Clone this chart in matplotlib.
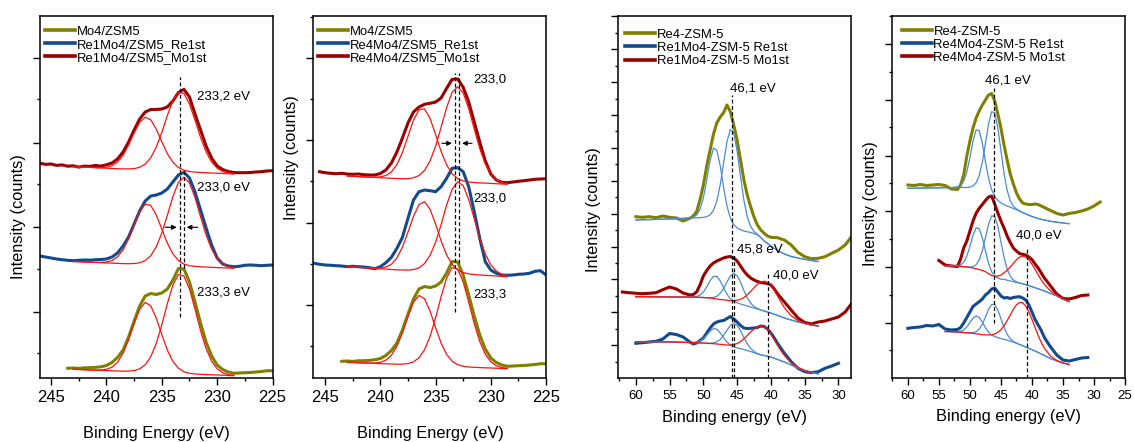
"""
XPS spectra (Mo 3d on the left, Re 4f on the right) of Mo/Re-ZSM-5 samples.
Intensities are arbitrary units read off the original figure, already stacked.
"""
import numpy as np
import matplotlib
matplotlib.use('Agg')
import matplotlib.pyplot as plt
from matplotlib.lines import Line2D

plt.rcParams['font.family'] = ['Liberation Sans', 'DejaVu Sans']

nan = np.nan

# ---------------- Mo 3d panels ----------------
# spectra sampled every 0.5 eV from the given start energy
mo4_start = 243.5
mo4 = [9.7, 10.0, 9.6, 10.2, 10.3, 10.6, 11.2, 12.5, 15.5, 20.5, 28.0, 41.0, 57.0, 72.0,
       82.0, 84.5, 83.5, 85.0, 89.0, 98.0, 109.5, 109.0, 96.0, 76.0, 55.0, 36.0, 22.0,
       13.0, 8.5, 6.0, 4.7, 5.0, 5.3, 5.5, 6.0, 6.5, 7.3, 7.2]

p1_re1st_start = 246.0
p1_re1st = [122.0, 121.0, 120.0, 119.0, 118.3, 117.7, 117.3, 117.7, 118.0, 117.8, 118.3,
            118.5, 119.0, 121.0, 125.0, 132.0, 141.0, 154.0, 167.0, 177.0, 182.0, 183.0,
            185.0, 189.0, 196.0, 203.0, 205.7, 200.0, 186.0, 168.0, 150.0, 133.0, 120.0,
            114.0, 112.0, 111.3, 111.7, 112.7, 113.0, 112.7, 112.3, 112.7, 113.0]

p1_mo1st_start = 246.0
p1_mo1st = [214.7, 213.6, 214.0, 212.6, 213.1, 211.8, 212.2, 210.9, 211.9, 211.6, 212.6,
            211.9, 213.2, 215.0, 219.0, 226.0, 236.0, 248.0, 259.0, 266.0, 268.5, 268.5,
            269.0, 271.0, 277.0, 285.5, 288.7, 281.0, 264.0, 248.0, 232.0, 220.0, 212.0,
            208.5, 206.5, 205.5, 205.3, 205.3, 205.5, 206.0, 206.3, 207.0, 207.3]

p2_re1st_start = 246.0
p2_re1st = [114.7, 113.7, 113.0, 112.7, 112.3, 112.0, 111.3, 111.7, 111.3, 111.0, 110.3,
            109.3, 111.3, 115.3, 120.7, 129.7, 140.7, 159.7, 178.0, 186.3, 188.0, 187.3,
            186.3, 191.3, 199.7, 209.7, 210.3, 206.3, 191.3, 166.3, 139.7, 116.3, 108.0,
            104.7, 103.0, 102.7, 103.0, 103.7, 104.0, 104.7, 106.7, 107.3, 103.0]

p2_mo1st_start = 245.5
p2_mo1st = [206.3, 205.3, 204.7, 204.3, 204.7, 204.0, 203.7, 204.0, 203.3, 203.0, 203.0,
            204.5, 208.0, 215.0, 226.0, 240.0, 255.0, 266.0, 271.0, 273.7, 274.7, 276.0,
            280.0, 289.7, 298.7, 299.0, 290.7, 276.0, 256.0, 236.0, 217.0, 204.0, 198.0,
            195.7, 195.3, 196.0, 196.7, 197.3, 198.0, 198.7, 199.0, 199.3]

# fitted Mo 3d5/2 and 3d3/2 components, 243 -> 228.5 eV every 0.5 eV
fit_be_mo = 243.0 - 0.5 * np.arange(30)
fit_mo4_l = [8.7, 8.5, 8.3, 8.0, 7.9, 8.0, 8.7, 10.8, 15.7, 24.7, 38.3, 54.5, 68.8, 75.6, 72.2,
             59.9, 43.5, 28.0, 16.6, 9.8, 6.3, 4.7, 4.0, 3.7, 3.4, 3.2, 3.0, 2.8, 2.5, 2.3]
fit_mo4_r = [8.7, 8.5, 8.3, 8.0, 7.8, 7.6, 7.4, 7.2, 7.0, 6.8, 6.9, 7.4, 9.1, 13.2, 21.2, 34.6,
             53.1, 74.3, 93.0, 103.5, 102.0, 89.1, 68.9, 47.4, 29.4, 16.8, 9.2, 5.3, 3.4, 2.6]
fit_p1_re1st_l = [116.5, 116.3, 116.0, 115.8, 115.6, 115.6, 116.0, 117.5, 121.1, 128.1, 139.2,
                  153.1, 166.2, 173.8, 172.6, 163.1, 149.0, 134.9, 124.3, 117.5, 113.9, 112.3,
                  111.6, 111.2, 110.9, 110.7, 110.4, 110.2, 110.0, 109.7]
fit_p1_re1st_r = [116.5, 116.3, 116.0, 115.8, 115.6, 115.3, 115.1, 114.9, 114.6, 114.4, 114.3,
                  114.5, 115.2, 117.4, 122.2, 131.2, 144.9, 162.7, 181.3, 195.6, 200.8, 195.1,
                  180.4, 161.3, 143.0, 128.9, 119.4, 114.1, 111.5, 110.2]
fit_p1_mo1st_l = [211.3, 211.1, 210.8, 210.6, 210.4, 210.3, 210.8, 212.3, 215.9, 222.6, 232.9,
                  245.0, 255.7, 260.8, 258.3, 248.8, 236.3, 224.4, 215.8, 210.5, 207.8, 206.5,
                  205.9, 205.5, 205.3, 205.0, 204.8, 204.5, 204.2, 204.0]
fit_p1_mo1st_r = [211.3, 211.1, 210.8, 210.6, 210.3, 210.0, 209.8, 209.5, 209.3, 209.1, 209.1,
                  209.4, 210.7, 213.9, 220.3, 230.9, 245.6, 262.4, 277.4, 285.7, 284.5, 274.0,
                  257.8, 240.5, 226.1, 215.9, 209.8, 206.5, 205.0, 204.2]
fit_p2_re1st_l = [111.3, 111.0, 110.6, 110.3, 110.0, 109.8, 109.9, 110.9, 113.8, 120.1, 130.9,
                  145.8, 161.7, 173.4, 176.3, 168.8, 154.0, 137.2, 123.1, 113.5, 108.0, 105.4,
                  104.1, 103.5, 103.0, 102.7, 102.3, 102.0, 101.6, 101.3]
fit_p2_re1st_r = [111.3, 111.0, 110.6, 110.3, 109.9, 109.6, 109.2, 108.9, 108.5, 108.2, 108.0,
                  107.9, 108.4, 110.2, 114.5, 122.6, 135.7, 153.3, 173.0, 188.7, 196.2, 192.4,
                  178.6, 159.2, 139.7, 124.0, 113.2, 106.9, 103.5, 102.0]
fit_p2_mo1st_l = [202.0, 201.7, 201.4, 201.1, 200.9, 200.8, 201.1, 202.5, 206.1, 213.5, 225.6,
                  241.7, 257.7, 268.4, 269.1, 259.6, 243.6, 226.6, 213.1, 204.2, 199.4, 197.1,
                  196.0, 195.5, 195.1, 194.9, 194.6, 194.3, 194.0, 193.7]
fit_p2_mo1st_r = [202.0, 201.7, 201.4, 201.1, 200.9, 200.6, 200.3, 200.0, 199.7, 199.5, 199.3,
                  199.4, 200.2, 202.5, 207.6, 217.1, 231.7, 250.7, 270.5, 285.7, 291.3, 285.1,
                  269.3, 249.0, 229.4, 214.3, 204.2, 198.5, 195.6, 194.3]

# ---------------- Re 4f panels ----------------
# common energy grid: 1 eV steps outside the peaks, 0.5 eV steps across them
be_re = np.concatenate([np.arange(62, 51.9, -1.0), np.arange(51.5, 37.9, -0.5),
                        np.arange(37, 27.9, -1.0)])

p3_re4 = [nan, nan, 161.3, 160.7, 161.3, 160.3, 162.0, 160.7, 160.0, 157.0, 159.7, 162.0,
          166.3, 178.0, 193.0, 212.0, 228.0, 244.0, 255.3, 261.0, 265.3, 273.0, 266.3, 253.0,
          238.0, 218.0, 198.0, 183.0, 171.3, 161.0, 153.0, 148.0, 144.7, 142.0, 140.7, 140.5,
          140.3, 139.0, 138.0, 133.0, 125.7, 121.3, 119.3, 119.7, 121.3, 124.7, 128.0, 133.0,
          142.0]
p3_mo1st = [86.0, 85.3, 84.7, 84.3, 84.7, 85.3, 88.3, 91.0, 89.0, 85.0, 83.0, 83.5, 86.0, 93.0,
            102.0, 107.5, 112.0, 115.0, 117.0, 118.5, 120.0, 121.0, 121.5, 120.0, 117.0, 112.0,
            107.0, 103.0, 100.0, 98.0, 96.5, 95.5, 95.0, 94.5, 93.0, 89.0, 84.0, 80.0, 76.0,
            68.0, 60.0, 55.5, 54.0, 56.0, 57.0, 59.0, 61.0, 66.0, 75.0]
p3_re1st = [nan, nan, 34.7, 35.3, 36.0, 36.7, 39.0, 44.5, 43.5, 41.0, 36.0, 34.0, 35.0, 37.5,
            40.0, 45.0, 50.0, 54.0, 56.0, 57.0, 57.5, 59.5, 61.5, 59.0, 56.0, 52.5, 50.0, 49.5,
            49.7, 50.0, 50.5, 52.0, 51.5, 49.0, 45.0, 40.0, 34.5, 29.5, 24.7, 16.3, 9.7, 6.3,
            5.3, 6.3, 9.7, 12.0, 14.7, nan, nan]

fit_p3_re4_l = [nan, nan, 158.0, 158.2, 158.4, 158.6, 158.8, 159.0, 159.3, 159.6, 160.2, 160.9,
                163.0, 168.6, 180.1, 198.0, 217.6, 230.0, 227.7, 212.0, 190.5, 171.9, 159.8,
                153.4, 150.1, 148.3, 147.0, 146.2, 145.5, 144.5, 143.0, 140.5, 137.0, 134.5,
                132.0, 129.7, 127.5, 125.7, 124.0, 121.5, 120.0, 118.7, 117.5, 116.5] + [nan] * 5
fit_p3_re4_r = [nan, nan, 158.0, 158.2, 158.4, 158.6, 158.8, 159.0, 159.3, 159.6, 160.0, 160.1,
                160.2, 160.3, 160.6, 161.3, 163.1, 167.6, 177.0, 193.4, 215.3, 236.6, 248.6,
                245.2, 226.8, 201.6, 177.8, 161.1, 151.6, 146.6, 143.6, 140.6, 137.0, 134.5,
                132.0, 129.7, 127.5, 125.7, 124.0, 121.5, 120.0, 118.7, 117.5, 116.5] + [nan] * 5
fit_p3_mo1st_l = [nan, nan, 81.3, 81.3, 81.2, 81.2, 81.1, 81.1, 81.0, 81.0, 81.0, 81.1, 81.5,
                  82.8, 86.0, 91.1, 97.3, 101.6, 101.6, 97.0, 90.1, 83.7, 79.2, 76.7, 75.3, 74.0,
                  73.0, 72.0, 71.0, 70.0, 69.0, 68.0, 67.0, 66.0, 65.0, 63.8, 62.5, 61.3, 60.0,
                  58.0, 56.0, 54.5, 53.0, 52.0] + [nan] * 5
fit_p3_mo1st_r = [nan, nan, 81.3, 81.3, 81.2, 81.2, 81.1, 81.1, 81.0, 81.0, 81.0, 80.9, 80.8,
                  80.6, 80.5, 80.2, 80.3, 80.5, 81.7, 84.6, 89.7, 96.2, 102.0, 104.7, 102.4,
                  95.8, 87.5, 80.1, 74.8, 71.5, 69.5, 68.0, 67.0, 66.0, 65.0, 63.8, 62.5, 61.3,
                  60.0, 58.0, 56.0, 54.5, 53.0, 52.0] + [nan] * 5
fit_p3_mo1st_mo = [nan, nan, 81.3, 81.3, 81.2, 81.2, 81.1, 81.1, 81.0, 81.0, 81.0, 80.9, 80.8,
                   80.6, 80.5, 80.2, 80.0, 79.5, 79.0, 78.5, 78.2, 77.7, 77.2, 77.3, 77.7, 78.6,
                   80.4, 83.1, 86.5, 90.2, 93.6, 96.1, 96.8, 95.6, 92.5, 87.6, 81.8, 75.8, 70.3,
                   62.2, 57.3, 54.8, 53.0, 52.0] + [nan] * 5
fit_p3_re1st_l = [nan, nan, 36.3, 36.2, 36.2, 36.1, 36.1, 36.0, 35.9, 35.7, 35.5, 35.6, 35.9,
                  36.9, 39.3, 42.9, 46.9, 49.4, 48.8, 45.1, 40.3, 36.0, 33.0, 31.3, 30.1, 29.3,
                  28.5, 27.5, 26.5, 25.3, 24.0, 23.2, 22.5, 21.8, 21.0, 19.8, 18.5, 17.2, 16.0,
                  13.0, 10.0, 7.5, 5.5, 4.0] + [nan] * 5
fit_p3_re1st_r = [nan, nan, 36.3, 36.2, 36.2, 36.1, 36.1, 36.0, 35.9, 35.7, 35.5, 35.4, 35.3,
                  35.1, 35.0, 34.8, 34.7, 35.1, 36.2, 38.5, 42.7, 47.9, 52.6, 54.7, 52.7, 47.3,
                  40.5, 34.2, 29.6, 26.5, 24.4, 23.2, 22.5, 21.8, 21.0, 19.8, 18.5, 17.2, 16.0,
                  13.0, 10.0, 7.5, 5.5, 4.0] + [nan] * 5
fit_p3_re1st_mo = [nan, nan, 36.3, 36.2, 36.2, 36.1, 36.1, 36.0, 35.9, 35.7, 35.5, 35.4, 35.3,
                   35.1, 35.0, 34.8, 34.5, 34.3, 34.0, 33.7, 33.3, 33.0, 32.9, 33.4, 34.5, 36.4,
                   39.2, 42.5, 46.0, 49.1, 51.1, 52.0, 51.1, 48.4, 44.0, 38.4, 32.6, 27.1, 22.5,
                   15.3, 10.6, 7.6, 5.5] + [nan] * 6

p4_re4 = [nan, nan, 193.0, 192.5, 193.5, 192.5, 193.0, 193.5, 192.5, 189.0, 188.5, 193.0, 203.0,
          222.0, 237.0, 250.0, 260.0, 267.0, 273.0, 278.0, 283.0, 284.5, 277.0, 264.0, 250.0,
          233.0, 218.0, 204.0, 194.0, 185.0, 179.0, 175.0, 174.0, 173.5, 173.5, 174.0, 173.5,
          172.0, 170.5, 167.5, 164.5, 163.0, 164.5, 165.5, 167.0, 169.0, 172.0, 176.0, nan]
p4_mo1st = [nan] * 7 + [117.5, 113.0, 112.0, 111.5, 119.0, 130.0, 137.0, 147.0, 157.0, 164.7,
                        169.7, 173.5, 177.5, 181.0, 182.0, 174.0, 165.0, 157.0, 150.0, 142.0,
                        135.5, 130.0, 127.0, 124.5, 123.7, 123.0, 121.0, 118.5, 114.0, 110.0,
                        105.0, 100.0, 92.0, 84.0, 79.5, 79.0, 80.5, 82.5, 83.0] + [nan] * 3
p4_re1st = [nan, nan, 49.7, 50.5, 51.0, 52.5, 52.0, 53.5, 49.0, 48.0, 48.5, 50.5, 55.0, 60.5,
            66.0, 71.5, 74.0, 76.3, 79.0, 83.0, 85.5, 89.0, 90.0, 86.0, 82.0, 80.0, 80.5, 79.5,
            80.5, 81.0, 81.3, 80.0, 78.0, 73.0, 66.0, 58.5, 53.0, 47.5, 40.5, 31.0, 23.0, 18.0,
            17.0, 18.5, 20.0, 20.5, nan, nan, nan]

fit_p4_re4_l = [nan, nan, 189.7, 189.8, 189.9, 190.0, 190.1, 190.2, 190.3, 190.4, 191.1, 192.6,
                196.8, 205.9, 220.4, 237.0, 248.2, 247.4, 234.8, 216.5, 199.9, 188.3, 181.6,
                177.6, 175.1, 173.3, 172.0, 170.8, 169.5, 168.3, 167.0, 165.5, 164.0, 162.8,
                161.5, 160.5, 159.5, 158.7, 158.0, 156.7, 155.8, 155.0, 154.3] + [nan] * 6
fit_p4_re4_r = [nan, nan, 189.7, 189.8, 189.9, 190.0, 190.1, 190.2, 190.3, 190.4, 190.5, 190.5,
                190.5, 190.5, 190.9, 192.0, 195.2, 202.4, 215.7, 234.4, 253.9, 266.3, 265.3,
                250.2, 227.3, 204.6, 187.7, 177.4, 171.8, 169.0, 167.2, 165.5, 164.0, 162.8,
                161.5, 160.5, 159.5, 158.7, 158.0, 156.7, 155.8, 155.0, 154.3] + [nan] * 6
fit_p4_mo1st_l = [nan] * 8 + [112.0, 112.0, 112.2, 113.1, 115.8, 121.8, 131.5, 142.7, 150.1,
                              149.3, 140.2, 127.3, 114.8, 106.4, 102.0, 99.9, 98.8, 98.7, 97.8,
                              97.0, 96.3, 95.6, 95.0, 94.2, 93.3, 92.3, 91.3, 90.3, 89.2, 88.1,
                              87.0, 84.5, 82.0, 79.0, 76.3] + [nan] * 6
fit_p4_mo1st_r = [nan] * 8 + [112.0, 112.0, 111.8, 111.6, 111.4, 111.0, 110.9, 111.3, 113.2,
                              118.0, 127.2, 140.4, 153.4, 162.1, 161.6, 151.6, 136.1, 121.0,
                              109.0, 101.7, 98.0, 96.1, 95.0, 94.2, 93.3, 92.3, 91.3, 90.3, 89.2,
                              88.1, 87.0, 84.5, 82.0, 79.0, 76.3] + [nan] * 6
fit_p4_mo1st_mo = [nan] * 8 + [112.0, 112.0, 111.8, 111.6, 111.4, 111.0, 110.5, 110.0, 109.3,
                               108.5, 107.5, 106.4, 104.3, 102.6, 101.8, 101.9, 102.9, 105.3,
                               107.7, 111.0, 114.7, 118.2, 120.9, 122.0, 121.1, 118.2, 113.9,
                               108.7, 103.2, 98.0, 93.6, 86.9, 82.6, 79.1, 76.3] + [nan] * 6
fit_p4_re1st_l = [nan] * 8 + [46.5, 46.3, 46.3, 46.7, 48.0, 51.0, 55.5, 59.9, 62.1, 60.6, 55.9,
                              50.3, 45.8, 42.9, 41.4, 40.4, 39.5, 38.7, 37.8, 36.8, 35.8, 34.7,
                              33.5, 32.3, 31.0, 29.7, 28.3, 27.0, 25.5, 24.0, 22.5, 19.5, 17.0,
                              15.0, 13.5] + [nan] * 6
fit_p4_re1st_r = [nan] * 8 + [46.5, 46.3, 46.0, 45.8, 45.5, 45.2, 45.2, 45.3, 46.3, 48.9, 53.8,
                              61.0, 68.5, 73.5, 73.5, 68.0, 59.3, 50.6, 43.8, 39.3, 36.7, 35.0,
                              33.5, 32.3, 31.0, 29.7, 28.3, 27.0, 25.5, 24.0, 22.5, 19.5, 17.0,
                              15.0, 13.5] + [nan] * 6
fit_p4_re1st_mo = [nan] * 8 + [46.5, 46.3, 46.0, 45.8, 45.5, 45.2, 45.0, 44.6, 44.2, 43.8, 43.3,
                               43.2, 43.0, 43.1, 44.0, 45.7, 48.3, 52.3, 57.3, 63.0, 68.7, 73.2,
                               75.6, 75.3, 71.9, 66.1, 58.6, 50.5, 42.5, 35.5, 29.8, 21.9, 17.6,
                               15.1, 13.5] + [nan] * 6

# peak markers: (energy, y from, y to) and labels (text, energy, y)
p1_marks = [(233.32, 61, 301), (233.02, 110, 208)]
p2_marks = [(233.25, 66, 305), (232.89, 115, 305)]
p3_marks = [(45.78, 0, 283), (45.43, 0, 125), (40.45, 0, 106)]
p4_marks = [(46.17, 55, 290), (40.87, 0, 130)]
p1_labels = [('233,2 eV', 231.84, 281), ('233,0 eV', 231.84, 190), ('233,3 eV', 231.84, 85)]
p2_labels = [('233,0', 231.62, 299), ('233,0', 231.62, 179), ('233,3', 231.62, 83)]
p3_labels = [('46,1 eV', 46.08, 290), ('45,8 eV', 44.97, 128), ('40,0 eV', 39.65, 102)]
p4_labels = [('46,1 eV', 47.5, 298), ('40,0 eV', 42.58, 142)]
p1_arrows = [((234.7, 150.7), (233.65, 150.7)), ((231.75, 150.7), (232.75, 150.7))]
p2_arrows = [((234.43, 234.7), (233.52, 234.7)), ((231.7, 234.7), (232.6, 234.7))]

OLIVE = '#808000'
BLUE = '#124a8c'
DARKRED = '#9a0000'
FIT_RED = '#ff1010'
FIT_BLUE = '#4a8ccf'
MO4_SHIFT_P2 = 7  # stacking offset of the shared Mo4/ZSM5 curve in panel 2


def be_grid(start, n):
    return start - 0.5 * np.arange(n)


def style_axes(ax, xlim, xticks, xminor, ymajor, yminor, tick_size):
    ax.set_xlim(*xlim)
    ax.set_ylim(0, 362)
    ax.set_xticks(xticks)
    ax.set_xticks(xminor, minor=True)
    ax.set_yticks(ymajor)
    ax.set_yticks(yminor, minor=True)
    ax.set_yticklabels([])
    ax.tick_params(which='both', direction='out', width=1.0)
    ax.tick_params(which='major', length=4.8, labelsize=tick_size)
    ax.tick_params(which='minor', length=2.4)
    for s in ax.spines.values():
        s.set_linewidth(1.1)


def add_labels(ax, xlabel, xcoords, ycoords):
    ax.set_xlabel(xlabel, fontsize=11.8)
    ax.xaxis.set_label_coords(*xcoords)
    ax.xaxis.label.set_va('center')
    ax.set_ylabel('Intensity (counts)', fontsize=11.8)
    ax.yaxis.set_label_coords(*ycoords)
    ax.yaxis.label.set_va('center')


def add_legend(ax, labels, anchor):
    handles = [Line2D([], [], color=c, lw=2.6) for c in (OLIVE, BLUE, DARKRED)]
    ax.legend(handles, labels, loc='upper left', bbox_to_anchor=anchor, frameon=False,
              fontsize=9.4, handlelength=2.3, handletextpad=0.13, labelspacing=0.08,
              borderpad=0, borderaxespad=0)


def add_marks(ax, marks, labels, arrows=()):
    for x, y0, y1 in marks:
        ax.plot([x, x], [y0, y1], color='k', lw=0.9, dashes=(3, 2))
    for text, x, y in labels:
        ax.text(x, y, text, fontsize=9.5, va='center', ha='left')
    for tail, head in arrows:
        ax.annotate('', xy=head, xytext=tail,
                    arrowprops=dict(arrowstyle='-|>', color='k', lw=0.8, mutation_scale=7,
                                    shrinkA=0, shrinkB=0))


fig = plt.figure(figsize=(11.34, 4.42), dpi=100)
ax1 = fig.add_axes([0.0353, 0.1448, 0.2050, 0.8190])
ax2 = fig.add_axes([0.2760, 0.1448, 0.2055, 0.8190])
ax3 = fig.add_axes([0.5452, 0.1448, 0.2049, 0.8190])
ax4 = fig.add_axes([0.7869, 0.1448, 0.2052, 0.8190])

# panel 1
ax1.plot(be_grid(mo4_start, len(mo4)), mo4, color=OLIVE, lw=2.2)
ax1.plot(be_grid(p1_re1st_start, len(p1_re1st)), p1_re1st, color=BLUE, lw=2.2)
ax1.plot(be_grid(p1_mo1st_start, len(p1_mo1st)), p1_mo1st, color=DARKRED, lw=2.2)
for comp in (fit_mo4_l, fit_mo4_r, fit_p1_re1st_l, fit_p1_re1st_r, fit_p1_mo1st_l, fit_p1_mo1st_r):
    ax1.plot(fit_be_mo, comp, color=FIT_RED, lw=0.9)

# panel 2
ax2.plot(be_grid(mo4_start, len(mo4)), np.array(mo4) + MO4_SHIFT_P2, color=OLIVE, lw=2.2)
ax2.plot(be_grid(p2_re1st_start, len(p2_re1st)), p2_re1st, color=BLUE, lw=2.2)
ax2.plot(be_grid(p2_mo1st_start, len(p2_mo1st)), p2_mo1st, color=DARKRED, lw=2.2)
for comp in (fit_mo4_l, fit_mo4_r):
    ax2.plot(fit_be_mo, np.array(comp) + MO4_SHIFT_P2, color=FIT_RED, lw=0.9)
for comp in (fit_p2_re1st_l, fit_p2_re1st_r, fit_p2_mo1st_l, fit_p2_mo1st_r):
    ax2.plot(fit_be_mo, comp, color=FIT_RED, lw=0.9)

# panels 3 and 4
for ax, spectra, blue_fits, red_fits in (
        (ax3, (p3_re4, p3_re1st, p3_mo1st),
         (fit_p3_re4_l, fit_p3_re4_r, fit_p3_mo1st_l, fit_p3_mo1st_r, fit_p3_re1st_l, fit_p3_re1st_r),
         (fit_p3_mo1st_mo, fit_p3_re1st_mo)),
        (ax4, (p4_re4, p4_re1st, p4_mo1st),
         (fit_p4_re4_l, fit_p4_re4_r, fit_p4_mo1st_l, fit_p4_mo1st_r, fit_p4_re1st_l, fit_p4_re1st_r),
         (fit_p4_mo1st_mo, fit_p4_re1st_mo))):
    for y, c in zip(spectra, (OLIVE, BLUE, DARKRED)):
        ax.plot(be_re, y, color=c, lw=2.2)
    for y in blue_fits:
        ax.plot(be_re, y, color=FIT_BLUE, lw=0.9)
    for y in red_fits:
        ax.plot(be_re, y, color=FIT_RED, lw=0.9)

style_axes(ax1, (246.0, 225.0), [245, 240, 235, 230, 225], [242.5, 237.5, 232.5, 227.5],
           np.arange(66, 362, 84.6), np.arange(24.7, 362, 84.6), 12)
style_axes(ax2, (246.1, 225.0), [245, 240, 235, 230, 225], [242.5, 237.5, 232.5, 227.5],
           np.arange(73, 362, 82.3), np.arange(31.9, 363, 82.3), 12)
style_axes(ax3, (62.6, 28.2), np.arange(60, 29, -5), np.arange(62.5, 28, -5),
           np.arange(32.7, 363, 32.9), np.arange(16.2, 362, 32.9), 9.5)
style_axes(ax4, (62.5, 25.0), np.arange(60, 24, -5), np.arange(62.5, 25, -5),
           np.arange(55.3, 362, 55.7), np.arange(27.7, 363, 55.7), 9.5)

add_labels(ax1, 'Binding Energy (eV)', (0.502, -0.152), (-0.093, 0.445))
add_labels(ax2, 'Binding Energy (eV)', (0.502, -0.152), (-0.091, 0.608))
add_labels(ax3, 'Binding energy (eV)', (0.498, -0.110), (-0.108, 0.464))
add_labels(ax4, 'Binding energy (eV)', (0.4985, -0.107), (-0.096, 0.483))

add_legend(ax1, ['Mo4/ZSM5', 'Re1Mo4/ZSM5_Re1st', 'Re1Mo4/ZSM5_Mo1st'], (0.0215, 0.974))
add_legend(ax2, ['Mo4/ZSM5', 'Re4Mo4/ZSM5_Re1st', 'Re4Mo4/ZSM5_Mo1st'], (0.023, 0.974))
add_legend(ax3, ['Re4-ZSM-5', 'Re1Mo4-ZSM-5 Re1st', 'Re1Mo4-ZSM-5 Mo1st'], (0.029, 0.965))
add_legend(ax4, ['Re4-ZSM-5', 'Re4Mo4-ZSM-5 Re1st', 'Re4Mo4-ZSM-5 Mo1st'], (0.040, 0.974))

add_marks(ax1, p1_marks, p1_labels, p1_arrows)
add_marks(ax2, p2_marks, p2_labels, p2_arrows)
add_marks(ax3, p3_marks, p3_labels)
add_marks(ax4, p4_marks, p4_labels)

fig.savefig('out.png', dpi=100)
